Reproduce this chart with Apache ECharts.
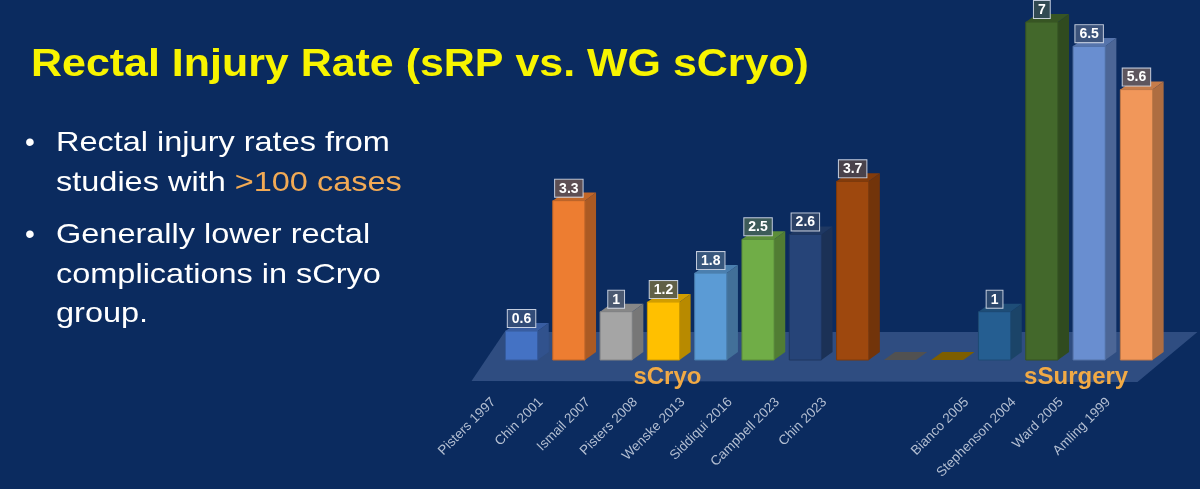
<!DOCTYPE html>
<html><head><meta charset="utf-8">
<script src="https://cdn.jsdelivr.net/npm/echarts@6/dist/echarts.min.js"></script>
<style>html,body{margin:0;padding:0;background:#0b2b5f;} #c{width:1200px;height:489px;}</style>
</head><body><div id="c"></div>
<script>
const titleText = 'Rectal Injury Rate (sRP vs. WG sCryo)';
const categories = ['Pisters 1997','Chin 2001','Ismail 2007','Pisters 2008','Wenske 2013','Siddiqui 2016','Campbell 2023','Chin 2023','','','Bianco 2005','Stephenson 2004','Ward 2005','Amling 1999'];
const values = [0.6, 3.3, 1, 1.2, 1.8, 2.5, 2.6, 3.7, 0, 0, 1, 7, 6.5, 5.6];
const barColors = ['#4472c4','#ed7d31','#a5a5a5','#ffc000','#5b9bd5','#70ad47','#264478','#9e480e','#636363','#997300','#255e91','#43682b','#698ed0','#f1975a'];
const groupNames = ['sCryo','sSurgery'];
const groupCats = [3, 12];

const FONT = '"Liberation Sans", Arial, sans-serif';
function hex(c){return [1,3,5].map(k=>parseInt(c.slice(k,k+2),16));}
function shade(c,f){const a=hex(c);return 'rgb('+a.map(v=>Math.round(v*f)).join(',')+')';}
function boxColor(c){const a=hex(c),bg=[11,43,95];return 'rgb('+a.map((v,k)=>Math.round(0.25*v+0.45*bg[k]+0.3*95)).join(',')+')';}

const data = values.map((v,i)=>[i,v]);

function renderItem(params, api){
  const i = api.value(0), v = api.value(1);
  const base = api.coord([i,0]);
  const top = api.coord([i,v]);
  const band = api.size([1,0])[0];
  const w = band*0.68;
  const x0 = base[0]-w/2, x1 = base[0]+w/2;
  const yb = base[1], yt = top[1];
  const dx = band*0.235, dy = -band*0.17;
  const c = barColors[i];
  const ch = [];
  if (v>0){
    ch.push({type:'polygon', shape:{points:[[x1,yt],[x1+dx,yt+dy],[x1+dx,yb+dy],[x1,yb]]}, style:{fill:shade(c,0.72)}});
    ch.push({type:'rect', shape:{x:x0,y:yt,width:w,height:yb-yt}, style:{fill:c, stroke:shade(c,0.8), lineWidth:1}});
  }
  ch.push({type:'polygon', shape:{points:[[x0,yt],[x0+dx,yt+dy],[x1+dx,yt+dy],[x1,yt]]}, style:{fill:shade(c,0.82)}});
  if (v>0){
    ch.push({type:'text', style:{text:String(v), x:base[0], y:yt-4, align:'center', verticalAlign:'bottom',
      fill:'#ffffff', font:'bold 14px '+FONT, backgroundColor:boxColor(c),
      borderColor:'rgba(215,222,235,0.9)', borderWidth:1, padding:[2,4,1,4]}});
  }
  return {type:'group', children:ch};
}

const chart = echarts.init(document.getElementById('c'));
chart.setOption({
  backgroundColor:'#0b2b5f',
  animation:false,
  grid:[
    {left:497.9, width:662.2, top:22, bottom:129},
    {left:470, width:662.2, top:300, height:94}
  ],
  xAxis:[
    {type:'category', gridIndex:0, data:categories, show:false},
    {type:'category', gridIndex:1, data:categories, axisLine:{show:false}, axisTick:{show:false},
     axisLabel:{interval:0, rotate:45, margin:6, color:'#b4bfd2', fontSize:13.5, fontFamily:FONT}}
  ],
  yAxis:[
    {type:'value', gridIndex:0, min:0, max:7, show:false},
    {type:'value', gridIndex:1, show:false}
  ],
  series:[{type:'custom', xAxisIndex:0, yAxisIndex:0, data:data, renderItem:renderItem, z:2}]
});

const p0 = chart.convertToPixel({xAxisIndex:0,yAxisIndex:0},[0,0]);
const p13 = chart.convertToPixel({xAxisIndex:0,yAxisIndex:0},[13,0]);
const by = p0[1];
const gx = groupCats.map(g=>chart.convertToPixel({xAxisIndex:0,yAxisIndex:0},[g,0])[0]);

function txt(str, x, y, font, fill, sx, extra){
  return Object.assign({type:'text', z:100, x:x, y:y, scaleX:sx, originX:0, originY:0,
    style:Object.assign({text:str, x:0, y:0, verticalAlign:'middle', fill:fill, font:font}, extra||{})});
}
const BF = '28px '+FONT, SX = 1.16;
chart.setOption({
  graphic:[
    {type:'polygon', z:0, shape:{points:[[p0[0]-50,by+21],[p13[0]+1,by+22],[p13[0]+61,by-28],[p0[0]-17,by-28]]},
     style:{fill:'rgba(90,120,170,0.45)'}},
    txt(groupNames[0], gx[0]+4, by+17, 'bold 24px '+FONT, '#f2aa45', 1, {align:'center'}),
    txt(groupNames[1], gx[1]-13, by+17, 'bold 24px '+FONT, '#f2aa45', 1, {align:'center'}),
    txt(titleText, 31, 66, 'bold 38px '+FONT, '#f8f400', 1.13),
    txt('•', 25, 143, BF, '#ffffff', 1),
    txt('Rectal injury rates from', 56, 143, BF, '#ffffff', SX),
    txt('{w|studies with }{o|>100 cases}', 56, 183, BF, '#ffffff', SX,
      {rich:{w:{fill:'#ffffff', font:BF}, o:{fill:'#f2aa55', font:BF}}}),
    txt('•', 25, 235, BF, '#ffffff', 1),
    txt('Generally lower rectal', 56, 235, BF, '#ffffff', SX),
    txt('complications in sCryo', 56, 275, BF, '#ffffff', SX),
    txt('group.', 56, 314, BF, '#ffffff', SX)
  ]
});
</script>
</body></html>
